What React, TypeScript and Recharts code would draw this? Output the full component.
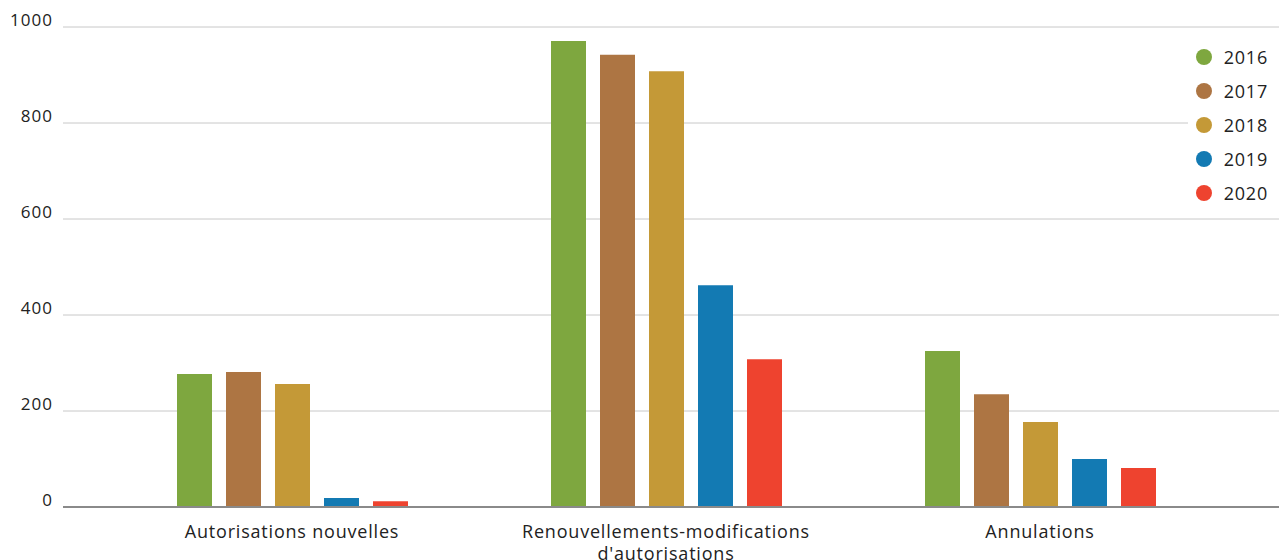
import { BarChart, Bar, XAxis, YAxis, CartesianGrid } from "recharts";

document.body.style.margin = "0";

const categories = ["Autorisations nouvelles", "Renouvellements-modifications\nd'autorisations", "Annulations"];
const years = ["2016", "2017", "2018", "2019", "2020"];
const colors = ["#7ea73f", "#ad7543", "#c49937", "#137ab3", "#ee432f"];
const v2016 = [277, 971, 325];
const v2017 = [281, 942, 235];
const v2018 = [256, 908, 177];
const v2019 = [19, 462, 100];
const v2020 = [12, 308, 81];
const yTicks = [0, 200, 400, 600, 800, 1000];

const series = [v2016, v2017, v2018, v2019, v2020];
const data = categories.map((name, i) => {
  const row: Record<string, string | number> = { name };
  years.forEach((y, k) => (row[y] = series[k][i]));
  return row;
});

const font = "'Open Sans', sans-serif";

function XTick({ x, y, payload }: any) {
  const lines = String(payload.value).split("\n");
  return (
    <text x={x} y={y} textAnchor="middle" fill="#222" fontSize={18} letterSpacing={0.8} fontFamily={font}>
      {lines.map((l, i) => (
        <tspan key={i} x={x} dy={i === 0 ? 23 : 22}>
          {l}
        </tspan>
      ))}
    </text>
  );
}

function YTick({ x, y, payload }: any) {
  return (
    <text x={x} y={y - 1} textAnchor="end" fill="#222" fontSize={17} letterSpacing={1} fontFamily={font}>
      {payload.value}
    </text>
  );
}

function LegendBox() {
  return (
    <div
      style={{
        position: "absolute",
        top: 40,
        right: 0,
        background: "#fff",
        padding: "0 11px 0 8px",
        fontFamily: font,
      }}
    >
      {years.map((y, i) => (
        <div key={y} style={{ display: "flex", alignItems: "center", height: 34 }}>
          <span
            style={{ width: 16, height: 16, borderRadius: "50%", background: colors[i], marginRight: 12 }}
          />
          <span style={{ fontSize: 18, letterSpacing: 0.8, color: "#222" }}>{y}</span>
        </div>
      ))}
    </div>
  );
}

export default function App() {
  return (
    <div style={{ position: "relative", width: 1279, height: 560 }}>
      <BarChart
        width={1279}
        height={560}
        data={data}
        margin={{ top: 27, right: 0, bottom: 0, left: 0 }}
        barSize={35}
        barGap={14}
      >
        <CartesianGrid vertical={false} stroke="#c8c8c8" strokeWidth={1} />
        <XAxis
          dataKey="name"
          interval={0}
          height={53}
          tickLine={false}
          axisLine={{ stroke: "#8a8a8a", strokeWidth: 2 }}
          padding={{ left: 42, right: 52 }}
          tick={<XTick />}
        />
        <YAxis
          domain={[0, 1000]}
          ticks={yTicks}
          width={63}
          axisLine={false}
          tickLine={false}
          tickSize={0}
          tickMargin={10}
          tick={<YTick />}
        />
        {years.map((y, i) => (
          <Bar key={y} dataKey={y} fill={colors[i]} isAnimationActive={false} />
        ))}
      </BarChart>
      <LegendBox />
    </div>
  );
}
